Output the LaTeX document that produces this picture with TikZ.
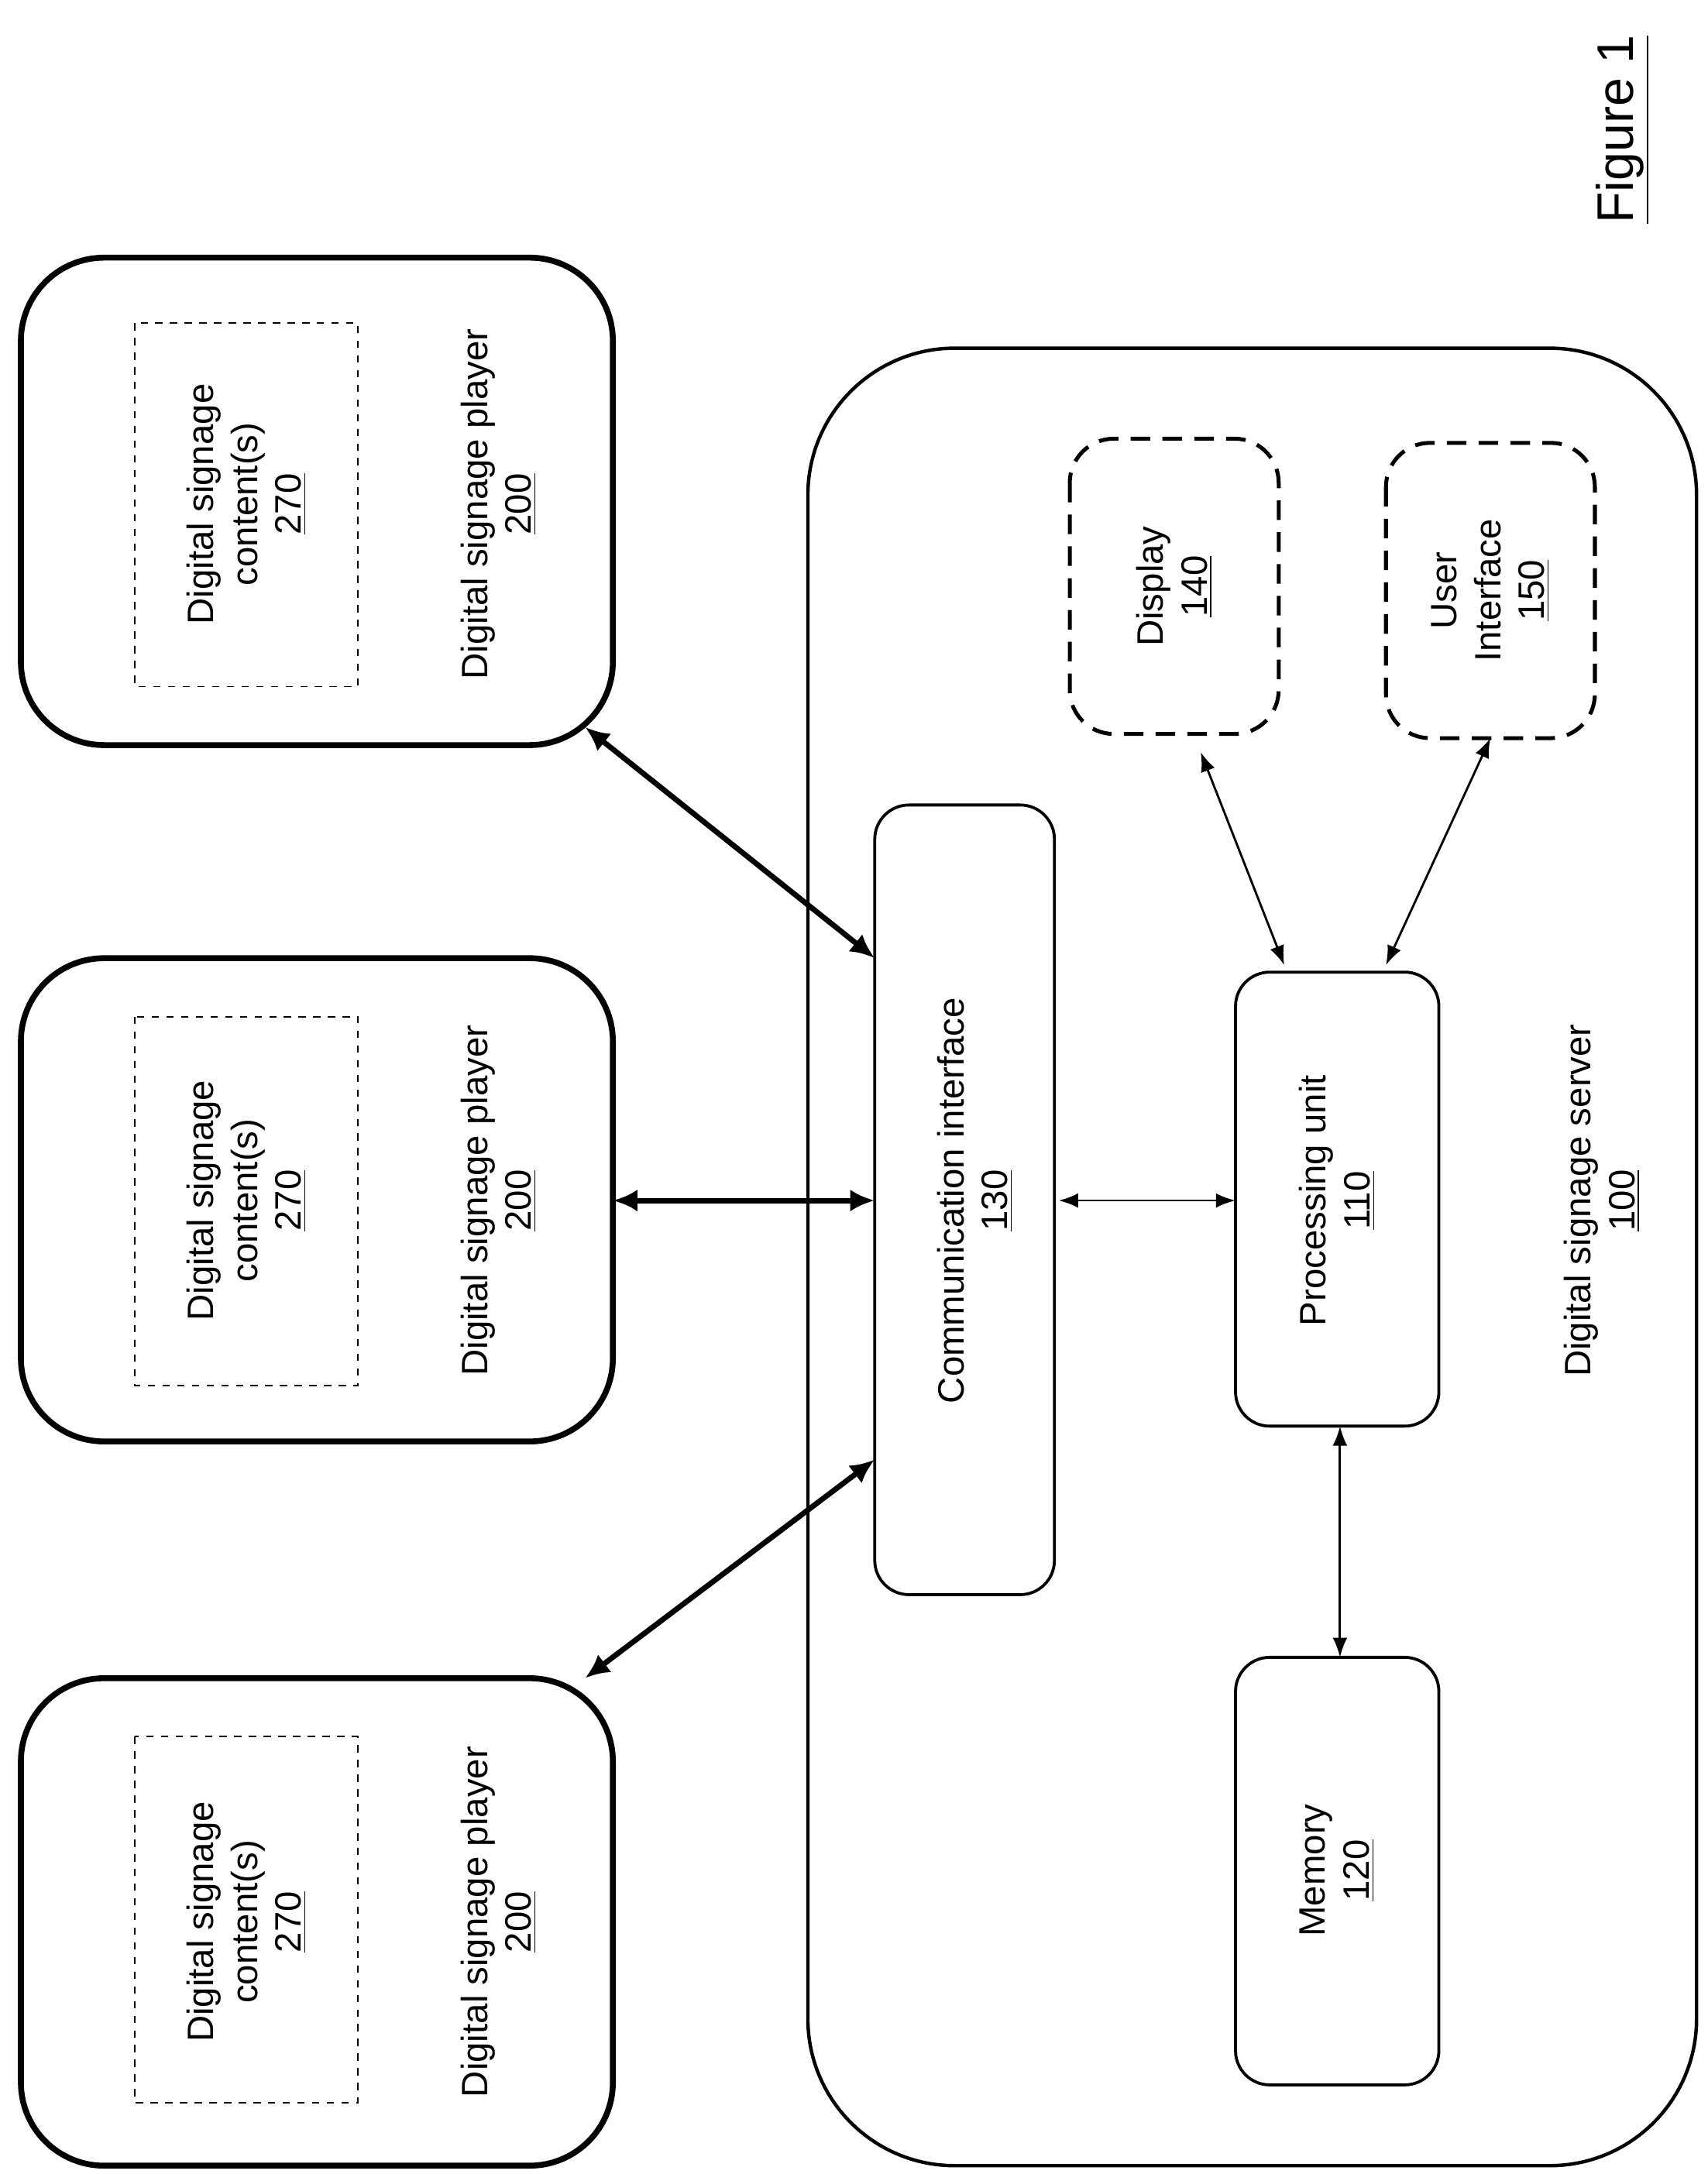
\documentclass[tikz,border=0pt]{standalone}
\usepackage{fontspec}
\setmainfont{Liberation Sans}
\usetikzlibrary{arrows.meta}
\begin{document}
\begin{tikzpicture}[x=0.02cm,y=-0.02cm,
  every node/.style={font=\fontsize{15}{18}\selectfont, align=center},
  box/.style={draw, line width=1.2pt, rounded corners=14pt},
  player/.style={draw, line width=2.4pt, rounded corners=34pt},
  dbox/.style={draw, dashed, line width=0.6pt},
  ddbox/.style={draw, dash pattern=on 8pt off 5pt, line width=1.6pt, rounded corners=18pt},
  thick arr/.style={{Latex[length=10pt,width=9pt]}-{Latex[length=10pt,width=9pt]}, line width=2.2pt},
  thin arr/.style={{Latex[length=8pt,width=6pt]}-{Latex[length=8pt,width=6pt]}, line width=0.9pt},
  lbl/.style={rotate=90}]
\useasboundingbox (0,0) rectangle (1226,1561);
% players
\foreach \n/\yt/\yb in {1/185/535, 2/688/1035, 3/1205/1555}{
  \draw[player] (15,\yt) rectangle (440,\yb);
}
\draw[dbox] (97,232) rectangle (257,493);
\draw[dbox] (97,730) rectangle (257,995);
\draw[dbox] (97,1247) rectangle (257,1510);
\foreach \yc in {362,862,1380}{
  \node[lbl] at (177,\yc) {Digital signage\\content(s)\\\underline{270}};
  \node[lbl] at (358,\yc) {Digital signage player\\\underline{200}};
}
\coordinate (p1) at (420,522);
\coordinate (p2) at (440,862);
\coordinate (p3) at (420,1205);
% server
\draw[line width=1.4pt, rounded corners=60pt] (580,250) rectangle (1218,1555);
\node[lbl] (srv) at (1150,862) {Digital signage server\\\underline{100}};
\draw[box] (628,578) rectangle (757,1145);
\node[lbl] (ci) at (700,862) {Communication interface\\\underline{130}};
\draw[box] (887,698) rectangle (1033,1024);
\node[lbl] (pu) at (960,862) {Processing unit\\\underline{110}};
\draw[box] (887,1190) rectangle (1033,1497);
\node[lbl] (mem) at (960,1343) {Memory\\\underline{120}};
\draw[ddbox] (768,315) rectangle (918,527);
\node[lbl] (disp) at (843,421) {Display\\\underline{140}};
\draw[ddbox] (995,318) rectangle (1145,530);
\node[lbl] (ui) at (1070,424) {User\\Interface\\\underline{150}};
\node[rotate=90, font=\fontsize{21}{25}\selectfont] (fig) at (1165,93) {\underline{Figure 1}};
% arrows
\coordinate (c1) at (628,688);
\coordinate (c2) at (628,862);
\coordinate (c3) at (628,1048);
\draw[thick arr] (p1) -- (c1);
\draw[thick arr] (p2) -- (c2);
\draw[thick arr] (p3) -- (c3);
\coordinate (ciR) at (760,862); \coordinate (puL) at (887,862);
\draw[thin arr] (ciR) -- (puL);
\coordinate (puB) at (962,1024); \coordinate (memT) at (962,1190);
\draw[thin arr] (puB) -- (memT);
\coordinate (dB) at (862,540); \coordinate (puT1) at (922,693);
\draw[thin arr] (dB) -- (puT1);
\coordinate (uB) at (1070,530); \coordinate (puT2) at (995,693);
\draw[thin arr] (uB) -- (puT2);
\end{tikzpicture}
\end{document}
